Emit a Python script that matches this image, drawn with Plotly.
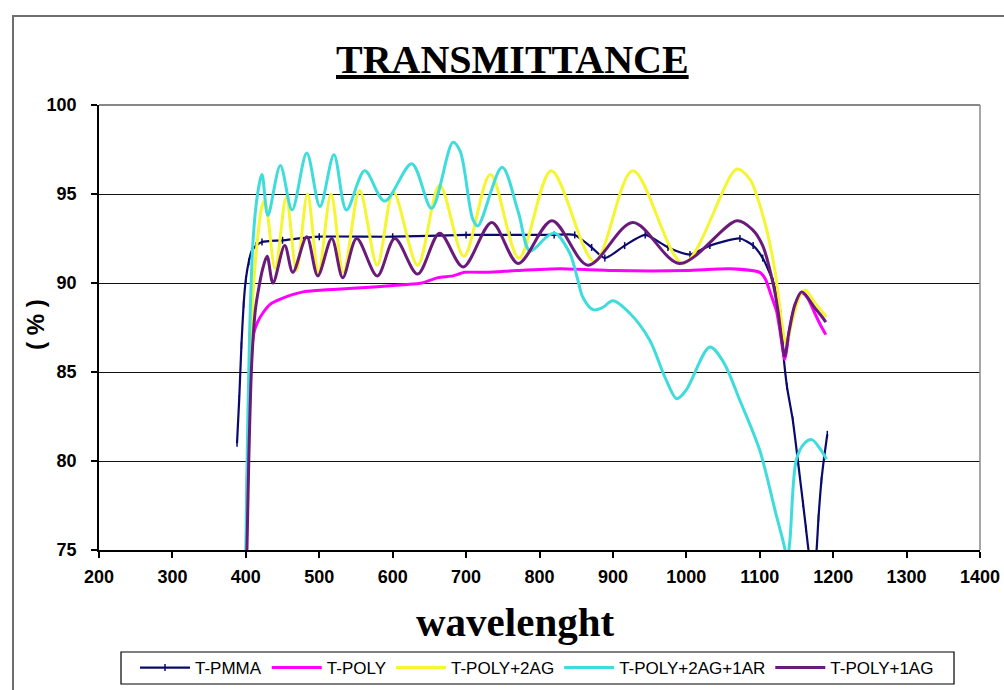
import plotly.graph_objects as go

# ---- spectral data (wavelength in nm, transmittance in %) ----
pmma_wl = [388, 391, 394, 397, 400, 404, 408, 414, 422, 450, 500, 600, 700, 760, 820,
           848, 871, 889, 916, 944, 975, 1005, 1032, 1073, 1091, 1104, 1118, 1128,
           1132, 1137, 1145, 1152, 1159, 1163, 1167, 1172, 1177, 1180, 1184, 1188, 1192]
pmma_t = [81.0, 83.5, 86.5, 88.8, 90.2, 91.2, 91.8, 92.1, 92.3, 92.4, 92.6, 92.6, 92.7, 92.7, 92.7,
          92.7, 92.0, 91.4, 92.1, 92.7, 92.0, 91.6, 92.1, 92.5, 92.1, 91.4, 90.1, 88.4,
          86.1, 84.2, 82.3, 80.0, 77.6, 76.2, 74.8, 73.5, 74.8, 76.8, 78.9, 80.3, 81.5]

poly_wl = [400, 401, 402, 405, 408, 411, 416, 423, 433, 447, 478, 546, 614, 640, 662, 682,
           698, 728, 769, 828, 900, 1000, 1060, 1100, 1108, 1114, 1119, 1123, 1128, 1134,
           1141, 1148, 1155, 1160, 1166, 1175, 1182, 1190]
poly_t = [72.0, 76.0, 79.0, 84.0, 86.2, 87.2, 87.8, 88.3, 88.8, 89.1, 89.5, 89.7, 89.9, 90.0, 90.3, 90.4,
          90.6, 90.6, 90.7, 90.8, 90.7, 90.7, 90.8, 90.6, 90.2, 89.5, 88.9, 88.4, 87.2, 85.7,
          87.5, 88.7, 89.4, 89.4, 89.1, 88.3, 87.7, 87.1]

ag2_wl = [400, 401, 405, 410, 416, 422, 426, 440, 455, 469, 484, 499, 516, 533, 555, 579,
          601, 634, 664, 697, 733, 772, 816, 875, 927, 996, 1069, 1087, 1096, 1110, 1121,
          1130, 1136, 1145, 1155, 1162, 1175, 1191]
ag2_t = [72.0, 76.0, 84.0, 89.5, 92.5, 94.3, 94.6, 90.8, 94.8, 90.7, 95.0, 90.6, 95.0, 90.6, 95.2, 91.0,
         95.1, 91.0, 95.5, 91.5, 96.1, 91.4, 96.3, 91.2, 96.3, 91.1, 96.4, 95.8, 94.9, 92.9, 90.6,
         87.8, 86.6, 88.0, 89.3, 89.6, 88.9, 88.1]

ag2ar_wl = [399, 401, 405, 410, 416, 422, 430, 447, 463, 483, 501, 520, 537, 562, 589, 626,
            653, 682, 692, 709, 716, 749, 771, 787, 810, 821, 841, 852, 859, 873, 885, 900,
            923, 950, 971, 987, 1000, 1032, 1050, 1073, 1100, 1121, 1134, 1137, 1141, 1150,
            1161, 1171, 1182, 1191]
ag2ar_t = [72.0, 78.0, 87.0, 92.5, 95.0, 96.1, 93.8, 96.6, 94.1, 97.3, 94.3, 97.2, 94.1, 96.3, 94.6, 96.7,
           94.2, 97.9, 97.4, 93.6, 93.2, 96.5, 94.0, 91.8, 92.6, 92.8, 91.7, 90.2, 89.2, 88.5, 88.6, 89.0,
           88.3, 86.8, 84.7, 83.5, 84.0, 86.4, 85.6, 83.4, 80.6, 77.2, 75.1, 74.3, 75.5, 80.1,
           81.0, 81.2, 80.7, 80.1]

ag1_wl = [400, 404, 408, 413, 418, 423, 429, 437, 453, 464, 483, 498, 517, 532, 551, 579,
          603, 634, 664, 696, 735, 771, 817, 866, 927, 991, 1069, 1090, 1104, 1118, 1125,
          1130, 1134, 1140, 1148, 1157, 1163, 1175, 1183, 1190]
ag1_t = [72.0, 80.0, 85.5, 88.5, 89.8, 90.8, 91.5, 90.0, 92.1, 90.6, 92.6, 90.4, 92.5, 90.3, 92.5, 90.4,
         92.5, 90.5, 92.8, 90.9, 93.4, 91.1, 93.5, 91.0, 93.4, 91.1, 93.5, 93.0, 92.1, 90.0, 88.4,
         86.8, 85.9, 87.3, 88.8, 89.5, 89.3, 88.6, 88.2, 87.8]

x_ticks = list(range(200, 1401, 100))
y_ticks = [75, 80, 85, 90, 95, 100]

SERIF = "Liberation Serif, Times New Roman, serif"
SANS = "Liberation Sans, Arial, sans-serif"

fig = go.Figure()

fig.add_trace(go.Scatter(
    x=pmma_wl, y=pmma_t, name="T-PMMA", mode="lines+markers",
    line=dict(color="#0a0a6e", width=2.2, shape="spline", smoothing=0.6),
    marker=dict(symbol="line-ns-open", size=5, color="#0a0a6e", line=dict(width=1.5, color="#0a0a6e")),
))
fig.add_trace(go.Scatter(
    x=poly_wl, y=poly_t, name="T-POLY", mode="lines",
    line=dict(color="#ff00ff", width=3, shape="spline", smoothing=0.6),
))
fig.add_trace(go.Scatter(
    x=ag2_wl, y=ag2_t, name="T-POLY+2AG", mode="lines",
    line=dict(color="#f5f530", width=3, shape="spline", smoothing=0.9),
))
fig.add_trace(go.Scatter(
    x=ag2ar_wl, y=ag2ar_t, name="T-POLY+2AG+1AR", mode="lines",
    line=dict(color="#3fdcdc", width=3, shape="spline", smoothing=0.9),
))
fig.add_trace(go.Scatter(
    x=ag1_wl, y=ag1_t, name="T-POLY+1AG", mode="lines",
    line=dict(color="#6a1a78", width=3, shape="spline", smoothing=0.9),
))

# plot-area geometry in pixels
L, R, T, B = 99, 980, 105, 550
W, H = R - L, B - T


def px(x):
    return (x - L) / W


def py(y):
    return (B - y) / H


tick_font = dict(family=SANS, size=18, color="black", weight="bold")

fig.update_layout(
    width=1004, height=690,
    margin=dict(l=L, r=1004 - R, t=T, b=690 - B, autoexpand=False),
    paper_bgcolor="white", plot_bgcolor="white",
    showlegend=True,
    legend=dict(
        orientation="h", x=px(537), xanchor="center", y=py(650), yanchor="top",
        borderwidth=0, bgcolor="rgba(0,0,0,0)",
        font=dict(family=SANS, size=17, color="black"),
        tracegroupgap=0, itemwidth=50,
    ),
    xaxis=dict(
        range=[200, 1400], tickvals=x_ticks, ticktext=[str(v) for v in x_ticks],
        showgrid=False, zeroline=False, showline=True, linecolor="black", linewidth=1.5,
        ticks="outside", ticklen=6, tickcolor="black", tickwidth=1.5,
        ticklabelstandoff=4, tickfont=tick_font,
    ),
    yaxis=dict(
        range=[75, 100], tickvals=y_ticks, ticktext=[str(v) for v in y_ticks],
        showgrid=True, gridcolor="#111111", gridwidth=1.2, zeroline=False,
        showline=True, linecolor="black", linewidth=1.5,
        ticks="outside", ticklen=6, tickcolor="black", tickwidth=1.5,
        ticklabelstandoff=11, tickfont=tick_font,
    ),
    shapes=[
        # top edge of the plot area
        dict(type="line", xref="paper", yref="paper", x0=0, x1=1, y0=1, y1=1,
             line=dict(color="#111111", width=1.2)),
        # right edge of the plot area
        dict(type="line", xref="paper", yref="paper", x0=1, x1=1, y0=0, y1=1,
             line=dict(color="#8a8a8a", width=1.5)),
        # chart frame
        dict(type="rect", xref="paper", yref="paper",
             x0=px(13), x1=px(1012), y0=py(700), y1=py(16),
             line=dict(color="#6e6e6e", width=2), layer="below"),
        # legend box
        dict(type="rect", xref="paper", yref="paper",
             x0=px(121), x1=px(954), y0=py(684), y1=py(652),
             line=dict(color="black", width=1.2), layer="below"),
    ],
    annotations=[
        dict(text="<b><u>TRANSMITTANCE</u></b>", xref="paper", yref="paper",
             x=px(512), y=py(60), xanchor="center", yanchor="middle", showarrow=False,
             font=dict(family=SERIF, size=40, color="black")),
        dict(text="<b>wavelenght</b>", xref="paper", yref="paper",
             x=px(515), y=py(622), xanchor="center", yanchor="middle", showarrow=False,
             font=dict(family=SERIF, size=41, color="black")),
        dict(text="<b>( % )</b>", xref="paper", yref="paper", textangle=-90,
             x=px(35), y=py(325), xanchor="center", yanchor="middle", showarrow=False,
             font=dict(family=SANS, size=24, color="black")),
    ],
)

fig.write_html("out.html")
